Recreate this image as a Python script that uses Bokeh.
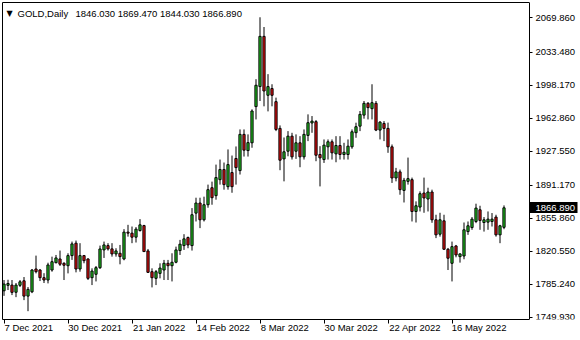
from bokeh.plotting import figure
from bokeh.models import (Range1d, LinearAxis, FixedTicker, Label,
                          ColumnDataSource)
from bokeh.embed import file_html
from bokeh.resources import INLINE

symbol = "GOLD,Daily"
last_ohlc = ["1846.030", "1869.470", "1844.030", "1866.890"]
last_close = 1866.89

date_labels = ["7 Dec 2021", "30 Dec 2021", "21 Jan 2022", "14 Feb 2022",
               "8 Mar 2022", "30 Mar 2022", "22 Apr 2022", "16 May 2022"]
date_bars = [0, 16, 32, 48, 64, 80, 96, 112]

y_ticks = [1749.93, 1785.24, 1820.55, 1855.86, 1891.17, 1927.55,
           1962.86, 1998.17, 2033.48, 2069.86]
y_tick_labels = ["1749.930", "1785.240", "1820.550", "1855.860", "1891.170",
                 "1927.550", "1962.860", "1998.170", "2033.480", "2069.860"]

opens = [1778.2, 1784.0, 1784.3, 1776.6, 1784.0, 1788.9, 1772.5, 1777.1, 1801.5, 1800.4,
         1792.2, 1789.7, 1800.4, 1808.2, 1812.2, 1807.6, 1805.0, 1815.8, 1829.1, 1801.5,
         1815.8, 1812.2, 1792.2, 1795.8, 1802.9, 1821.9, 1826.5, 1823.0, 1817.6, 1818.3,
         1812.2, 1840.9, 1839.8, 1835.5, 1842.6, 1847.9, 1820.8, 1798.6, 1791.5, 1796.8,
         1800.4, 1807.6, 1805.0, 1808.7, 1821.2, 1826.5, 1835.1, 1826.5, 1861.2, 1872.0,
         1854.1, 1870.2, 1888.4, 1879.9, 1897.0, 1907.8, 1889.5, 1904.6, 1919.6, 1906.7,
         1945.4, 1928.1, 1936.4, 1975.1, 1996.5, 2050.2, 1987.2, 1994.4, 1980.4, 1951.8,
         1919.2, 1927.4, 1943.5, 1927.4, 1936.4, 1921.4, 1944.3, 1957.6, 1959.0, 1923.9,
         1918.5, 1932.1, 1937.5, 1924.6, 1933.5, 1923.9, 1923.9, 1932.1, 1947.2, 1954.2,
         1966.0, 1978.6, 1972.9, 1978.6, 1950.0, 1957.1, 1951.8, 1932.1, 1898.8, 1905.3,
         1885.5, 1895.2, 1897.0, 1863.0, 1867.7, 1882.7, 1876.3, 1883.8, 1854.1, 1838.7,
         1853.0, 1822.6, 1807.6, 1826.1, 1814.7, 1815.4, 1841.5, 1845.8, 1852.3, 1864.8,
         1851.2, 1851.6, 1852.3, 1857.0, 1838.0, 1846.03]
highs = [1789.7, 1790.0, 1789.7, 1786.5, 1789.7, 1792.9, 1782.2, 1801.5, 1815.8, 1801.5,
         1797.0, 1808.2, 1814.7, 1816.5, 1821.2, 1808.7, 1818.3, 1830.8, 1831.9, 1829.1,
         1816.5, 1812.9, 1802.2, 1804.7, 1826.5, 1830.8, 1829.1, 1829.1, 1823.7, 1827.2,
         1844.1, 1848.7, 1846.9, 1846.3, 1854.8, 1848.7, 1822.9, 1802.2, 1800.4, 1807.6,
         1811.2, 1811.2, 1818.3, 1825.4, 1832.6, 1838.7, 1836.2, 1866.6, 1877.7, 1877.7,
         1878.8, 1891.7, 1894.9, 1913.1, 1918.5, 1915.3, 1929.3, 1922.8, 1932.5, 1950.7,
         1950.7, 1945.4, 1972.2, 2004.4, 2070.6, 2060.2, 2009.8, 1999.0, 1984.7, 1955.0,
         1942.1, 1948.9, 1947.1, 1945.4, 1943.5, 1950.7, 1966.8, 1965.0, 1960.7, 1932.8,
         1940.0, 1940.0, 1940.0, 1943.5, 1943.5, 1936.4, 1940.0, 1950.7, 1957.9, 1970.4,
         1981.1, 1980.0, 1999.0, 1981.1, 1959.6, 1959.6, 1958.0, 1934.6, 1909.6, 1907.8,
         1898.9, 1920.6, 1899.2, 1873.8, 1884.5, 1899.2, 1888.4, 1886.3, 1859.5, 1861.6,
         1859.5, 1824.0, 1830.8, 1827.2, 1818.3, 1851.2, 1852.3, 1857.0, 1871.3, 1869.1,
         1857.0, 1863.0, 1861.3, 1859.5, 1848.7, 1869.47]
lows = [1772.8, 1779.0, 1773.6, 1771.4, 1782.2, 1768.2, 1756.4, 1775.7, 1796.8, 1788.6,
        1786.5, 1786.1, 1798.6, 1807.6, 1804.7, 1789.7, 1796.8, 1811.2, 1797.9, 1798.6,
        1807.6, 1789.7, 1784.3, 1788.2, 1801.5, 1813.3, 1821.2, 1814.7, 1814.7, 1806.5,
        1810.8, 1836.1, 1829.1, 1829.8, 1841.5, 1819.8, 1797.2, 1781.8, 1784.3, 1791.5,
        1789.7, 1789.7, 1788.2, 1807.6, 1816.5, 1821.9, 1823.7, 1821.2, 1852.3, 1845.2,
        1852.3, 1867.0, 1870.2, 1875.6, 1891.7, 1886.3, 1886.3, 1883.0, 1891.7, 1902.5,
        1921.7, 1921.7, 1931.1, 1961.4, 1981.1, 1975.4, 1970.0, 1975.4, 1948.9, 1907.1,
        1895.2, 1922.0, 1918.5, 1919.2, 1910.3, 1918.5, 1938.2, 1947.1, 1916.7, 1889.8,
        1914.9, 1918.5, 1918.5, 1915.6, 1918.5, 1918.5, 1918.5, 1930.0, 1941.8, 1948.9,
        1962.2, 1961.4, 1961.4, 1948.9, 1940.0, 1938.2, 1925.7, 1893.5, 1895.2, 1880.9,
        1872.6, 1891.7, 1852.3, 1851.2, 1863.0, 1861.6, 1863.0, 1850.9, 1834.5, 1836.1,
        1821.9, 1800.4, 1788.2, 1814.0, 1808.3, 1811.9, 1838.0, 1843.4, 1850.5, 1843.4,
        1841.5, 1843.4, 1846.9, 1836.1, 1829.1, 1844.03]
closes = [1785.4, 1786.0, 1776.5, 1784.3, 1787.8, 1772.5, 1779.7, 1800.4, 1798.6, 1792.2,
          1789.7, 1805.8, 1809.3, 1813.3, 1806.6, 1805.5, 1815.8, 1828.3, 1801.5, 1815.8,
          1810.4, 1791.5, 1799.3, 1802.9, 1822.9, 1827.2, 1823.0, 1817.6, 1820.8, 1814.7,
          1840.9, 1839.8, 1835.5, 1844.1, 1848.7, 1820.1, 1797.9, 1792.2, 1798.6, 1802.5,
          1807.6, 1805.0, 1808.7, 1821.9, 1828.0, 1833.7, 1827.2, 1859.5, 1872.0, 1854.1,
          1870.2, 1886.3, 1877.7, 1899.2, 1907.8, 1891.7, 1913.1, 1889.5, 1909.9, 1945.4,
          1928.5, 1936.6, 1970.4, 1997.9, 2050.2, 1991.8, 1996.5, 1987.2, 1950.7, 1917.8,
          1926.8, 1943.5, 1921.4, 1936.4, 1921.4, 1945.4, 1957.9, 1959.6, 1923.1, 1920.3,
          1933.9, 1937.5, 1925.7, 1933.5, 1923.9, 1926.3, 1932.8, 1948.2, 1953.6, 1966.8,
          1978.6, 1974.0, 1979.3, 1950.0, 1958.5, 1951.8, 1932.1, 1898.8, 1905.3, 1886.3,
          1896.3, 1898.1, 1863.0, 1869.1, 1882.0, 1877.4, 1883.8, 1854.1, 1838.0, 1854.1,
          1822.6, 1813.0, 1825.4, 1816.5, 1817.6, 1843.4, 1847.7, 1854.8, 1866.6, 1853.4,
          1854.1, 1854.8, 1854.8, 1838.0, 1847.7, 1866.89]

FONT = "Liberation Sans"
FS = "9.5px"
BULL = "#22c822"
BEAR = "#e60f0f"
PX_PER_BAR = 4.0
LEFT, TOP, BOTTOM = 2, 2, 21          # borders in px
W, H = 580, 340
X0 = -0.375                           # data x at the left edge of the chart
XA = X0 + 527 / PX_PER_BAR            # data x of the price scale line
X1 = X0 + (W - LEFT) / PX_PER_BAR     # data x at the right edge of the canvas

n = len(opens)
bars = list(range(n))
src = ColumnDataSource(dict(
    x=bars, high=highs, low=lows,
    top=[max(o, c) for o, c in zip(opens, closes)],
    bottom=[min(o, c) for o, c in zip(opens, closes)],
    color=[BULL if c >= o else BEAR for o, c in zip(opens, closes)],
))

p = figure(width=W, height=H,
           x_range=Range1d(X0, X1), y_range=Range1d(1747.5, 2086.4),
           output_backend="svg", toolbar_location=None,
           x_axis_location=None, y_axis_location=None,
           min_border_left=LEFT, min_border_top=TOP,
           min_border_right=0, min_border_bottom=BOTTOM)
p.grid.visible = False
p.outline_line_color = None
p.background_fill_color = "white"
p.border_fill_color = "white"


def border_axis(**kw):
    return LinearAxis(ticker=FixedTicker(ticks=[]),
                      major_tick_out=0, major_tick_in=0,
                      minor_tick_out=0, minor_tick_in=0,
                      major_label_text_color=None,
                      axis_line_color="black", **kw)


# chart frame: left and top border lines
p.add_layout(border_axis(), "left")
p.add_layout(border_axis(bounds=(X0, XA)), "above")

# x axis: line + tick marks only
xa = LinearAxis(ticker=FixedTicker(ticks=date_bars), bounds=(X0, XA),
                major_tick_out=4, major_tick_in=0,
                minor_tick_out=0, minor_tick_in=0,
                axis_line_color="black", major_tick_line_color="black",
                major_label_text_color=None)
p.add_layout(xa, "below")

# x axis: date labels, left-aligned at their tick (label centre shifted by half its width)
char_px = 4.85
label_pos = [b + (len(s) * char_px / 2.0 + 0.5) / PX_PER_BAR for b, s in zip(date_bars, date_labels)]
xl = LinearAxis(ticker=FixedTicker(ticks=label_pos),
                major_label_overrides={v: s for v, s in zip(label_pos, date_labels)},
                major_tick_out=0, major_tick_in=0,
                minor_tick_out=0, minor_tick_in=0,
                axis_line_color=None, major_tick_line_color=None,
                major_label_standoff=-2,
                major_label_text_font=FONT, major_label_text_font_size=FS,
                major_label_text_color="black")
p.add_layout(xl, "below")

# price scale, drawn at the right edge of the chart area
ya = LinearAxis(fixed_location=XA,
                ticker=FixedTicker(ticks=y_ticks),
                major_label_overrides={v: s for v, s in zip(y_ticks, y_tick_labels)},
                major_tick_out=3, major_tick_in=0,
                minor_tick_out=0, minor_tick_in=0,
                major_label_standoff=3,
                axis_line_color="black", major_tick_line_color="black",
                major_label_text_font=FONT, major_label_text_font_size=FS,
                major_label_text_color="black")
p.add_layout(ya, "right")

# current price marker: thick black tick with the white price over it
yc = LinearAxis(fixed_location=XA,
                ticker=FixedTicker(ticks=[last_close]),
                major_label_overrides={last_close: last_ohlc[3]},
                major_tick_out=48, major_tick_in=0,
                major_tick_line_width=11, major_tick_line_color="black",
                major_tick_line_cap="butt",
                minor_tick_out=0, minor_tick_in=0,
                major_label_standoff=-42,
                axis_line_color=None,
                major_label_text_font=FONT, major_label_text_font_size=FS,
                major_label_text_color="white")
p.add_layout(yc, "right")

p.segment(x0="x", y0="low", x1="x", y1="high", source=src,
          line_color="black", line_width=1)
p.vbar(x="x", width=0.55, top="top", bottom="bottom", source=src,
       fill_color="color", line_color="black", line_width=1)

p.add_layout(Label(x=4, y=306, x_units="screen", y_units="screen", text="\u25bc",
                   text_align="left", text_baseline="middle",
                   text_font="DejaVu Sans", text_font_size="8px", text_color="black"))
p.add_layout(Label(x=15, y=306, x_units="screen", y_units="screen", text=symbol,
                   text_align="left", text_baseline="middle",
                   text_font=FONT, text_font_size=FS, text_color="black"))
p.add_layout(Label(x=73, y=306, x_units="screen", y_units="screen",
                   text=" ".join(last_ohlc),
                   text_align="left", text_baseline="middle",
                   text_font=FONT, text_font_size=FS, text_color="black"))

open("out.html", "w").write(file_html(p, INLINE))
